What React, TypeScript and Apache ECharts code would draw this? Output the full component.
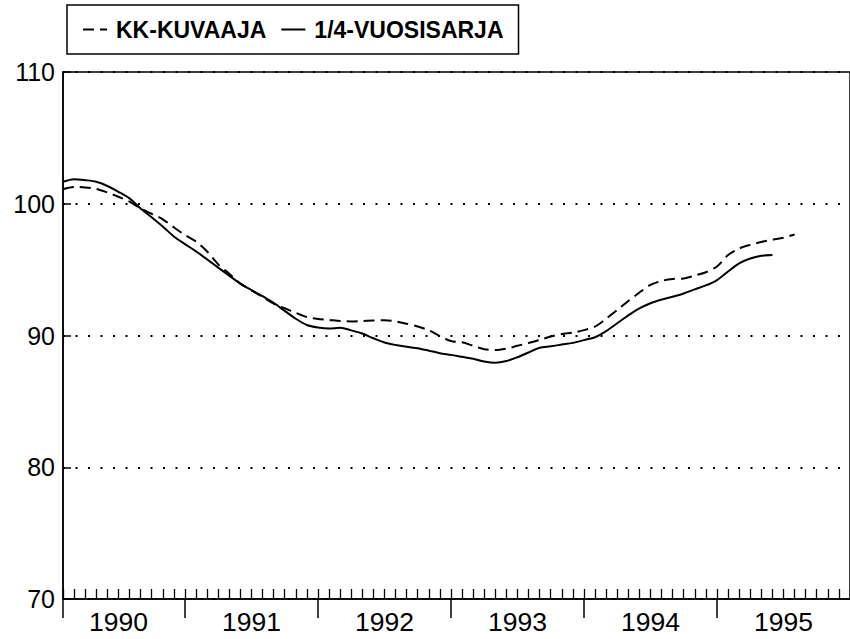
import React, { useEffect, useRef } from "react";
import * as echarts from "echarts";

// Month index: 0 = 1 Jan 1990, 12 = 1 Jan 1991, ...
const axisMinMonth = 1;
const axisMaxMonth = 72;
const yearLabels = ["1990", "1991", "1992", "1993", "1994", "1995"];
const yearBoundaryMonths = [1, 12, 24, 36, 48, 60];
const yearMidMonths = [6, 18, 30, 42, 54, 66];
const yMin = 70;
const yMax = 110;
const yStep = 10;
const seriesNames = ["KK-KUVAAJA", "1/4-VUOSISARJA"];

// KK-KUVAAJA (dashed), months 1..67
const kkValues = [
  101.1, 101.27, 101.24, 101.13, 100.86, 100.53, 100.16, 99.63, 99.24, 98.82,
  98.21, 97.63, 97.13, 96.38, 95.4, 94.69, 93.94, 93.43, 92.93, 92.42,
  92.07, 91.72, 91.4, 91.25, 91.18, 91.1, 91.07, 91.1, 91.14, 91.16,
  91.07, 90.89, 90.68, 90.4, 89.96, 89.58, 89.48, 89.22, 88.96, 88.9,
  89.01, 89.22, 89.43, 89.67, 89.92, 90.11, 90.22, 90.41, 90.68, 91.28,
  91.94, 92.62, 93.26, 93.84, 94.14, 94.29, 94.33, 94.55, 94.8, 95.24,
  96.11, 96.6, 96.88, 97.1, 97.27, 97.42, 97.67,
];

// 1/4-VUOSISARJA (solid), months 1..65
const quarterValues = [
  101.67, 101.86, 101.79, 101.67, 101.35, 100.91, 100.41, 99.64, 98.97, 98.28,
  97.52, 96.94, 96.39, 95.78, 95.15, 94.54, 93.94, 93.45, 92.98, 92.47,
  91.87, 91.27, 90.8, 90.61, 90.53, 90.58, 90.39, 90.15, 89.79, 89.47,
  89.28, 89.14, 89.03, 88.85, 88.66, 88.53, 88.38, 88.23, 88.03, 87.94,
  88.06, 88.35, 88.71, 89.07, 89.18, 89.31, 89.44, 89.65, 89.87, 90.33,
  90.93, 91.53, 92.05, 92.45, 92.72, 92.94, 93.19, 93.5, 93.8, 94.21,
  94.86, 95.47, 95.84, 96.05, 96.11,
];

const FONT = "'Liberation Sans', Arial, Helvetica, sans-serif";

export default function App() {
  const ref = useRef<HTMLDivElement>(null);

  useEffect(() => {
    if (!ref.current) return;
    const chart = echarts.init(ref.current, null, { renderer: "svg" });

    const kkData = kkValues.map((v, i) => [axisMinMonth + i, v]);
    const qData = quarterValues.map((v, i) => [axisMinMonth + i, v]);

    chart.setOption({
      animation: false,
      backgroundColor: "#ffffff",
      textStyle: { fontFamily: FONT, color: "#000" },
      legend: {
        left: 67,
        top: 5,
        padding: [13, 15, 13, 15],
        borderColor: "#000",
        borderWidth: 1.5,
        itemWidth: 24,
        itemHeight: 14,
        itemGap: 14,
        data: seriesNames,
        itemStyle: {
          color: "rgba(0,0,0,0)",
          borderColor: "rgba(0,0,0,0)",
          borderWidth: 0,
        },
        textStyle: {
          fontFamily: FONT,
          fontWeight: "bold",
          fontSize: 23,
          color: "#000",
          padding: [0, 0, 0, 4],
        },
      },
      grid: {
        left: 63,
        top: 72,
        right: -4,
        bottom: 40,
        show: true,
        borderColor: "#000",
        borderWidth: 1.5,
        backgroundColor: "transparent",
      },
      xAxis: [
        {
          type: "value",
          min: axisMinMonth,
          max: axisMaxMonth,
          interval: 1,
          position: "bottom",
          axisLine: { show: true, lineStyle: { color: "#000", width: 1.5 } },
          axisTick: {
            show: true,
            inside: true,
            length: 10,
            lineStyle: { color: "#000", width: 1.3 },
          },
          axisLabel: { show: false },
          splitLine: { show: false },
        },
        {
          type: "value",
          min: axisMinMonth,
          max: axisMaxMonth,
          position: "bottom",
          axisLine: { show: false },
          axisTick: {
            show: true,
            inside: false,
            length: 19,
            customValues: yearBoundaryMonths,
            lineStyle: { color: "#000", width: 1.5 },
          },
          axisLabel: {
            show: true,
            customValues: yearMidMonths,
            formatter: (v: number) => yearLabels[yearMidMonths.indexOf(v)] ?? "",
            fontFamily: FONT,
            fontSize: 26.5,
            color: "#000",
            margin: 9,
          },
          splitLine: { show: false },
        },
      ],
      yAxis: {
        type: "value",
        min: yMin,
        max: yMax,
        interval: yStep,
        axisLine: { show: true, lineStyle: { color: "#000", width: 1.5 } },
        axisTick: {
          show: true,
          inside: true,
          length: 8,
          lineStyle: { color: "#000", width: 1.5 },
        },
        axisLabel: {
          fontFamily: FONT,
          fontSize: 25,
          color: "#000",
          margin: 8,
        },
        splitLine: {
          show: true,
          lineStyle: { color: "#000", width: 2, type: [2, 10.5] },
        },
      },
      series: [
        {
          name: seriesNames[0],
          type: "line",
          xAxisIndex: 0,
          data: kkData,
          smooth: 0.3,
          symbol: "none",
          showSymbol: false,
          lineStyle: { color: "#000", width: 2, type: [11, 6] },
          itemStyle: { color: "#000" },
        },
        {
          name: seriesNames[1],
          type: "line",
          xAxisIndex: 0,
          data: qData,
          smooth: 0.3,
          symbol: "none",
          showSymbol: false,
          lineStyle: { color: "#000", width: 2, type: "solid" },
          itemStyle: { color: "#000" },
        },
      ],
    });

    return () => chart.dispose();
  }, []);

  return (
    <div
      ref={ref}
      style={{ position: "fixed", left: 0, top: 0, width: 850, height: 639, background: "#fff" }}
    />
  );
}
